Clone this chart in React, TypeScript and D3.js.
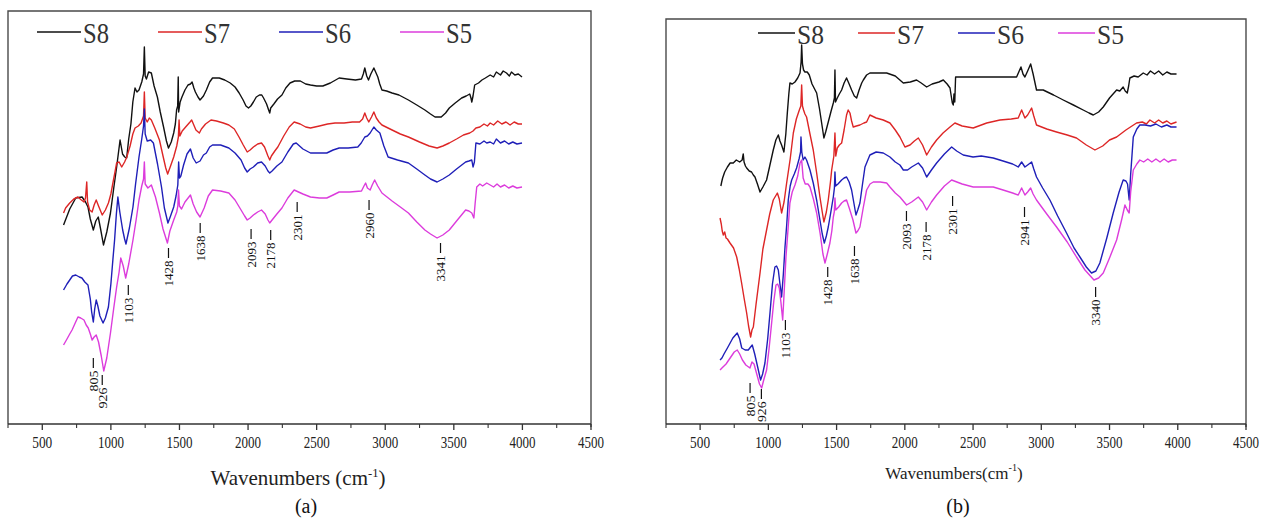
import React from 'react';
import * as d3 from 'd3';

type Pt = [number, number];

// ---------- data ----------
const SERIES = ['S8', 'S7', 'S6', 'S5'];
const COLORS = ['#111111', '#dd2626', '#1f1fb8', '#dc3cdc'];
const X_MAJOR = [500, 1000, 1500, 2000, 2500, 3000, 3500, 4000, 4500];
const X_MINOR = [250, 750, 1250, 1750, 2250, 2750, 3250, 3750, 4250];
const X_DOMAIN: [number, number] = [250, 4500];
const Y_MAX_A = 413; // transmittance, arbitrary units
const Y_MAX_B = 405;

// Panel (a)
const A_S8: Pt[] = [[655,199],[700,215],[744,226],[790,227],[815,222],[833,217],[850,205],[872,194],[890,203],[908,207],[925,195],[946,179],[970,192],[997,211],[1020,235],[1042,257],[1067,284],[1085,270],[1101,267],[1115,266],[1130,285],[1146,300],[1160,322],[1176,336],[1190,332],[1205,334],[1225,342],[1238,350],[1244,377],[1250,348],[1259,345],[1275,352],[1295,351],[1315,338],[1339,327],[1360,312],[1384,297],[1405,283],[1420,276],[1440,282],[1458,291],[1470,300],[1479,314],[1487,318],[1491,347],[1494,312],[1505,322],[1518,327],[1540,334],[1562,339],[1580,340],[1592,342],[1605,336],[1616,332],[1635,327],[1650,324],[1675,328],[1696,334],[1720,342],[1741,346],[1790,346],[1830,344],[1870,341],[1905,337],[1935,331],[1964,324],[1985,318],[2003,316],[2020,318],[2039,322],[2060,327],[2083,329],[2100,329],[2113,326],[2135,320],[2150,314],[2158,311],[2165,316],[2188,320],[2215,325],[2247,329],[2275,336],[2306,341],[2340,343],[2381,343],[2420,340],[2455,339],[2500,338],[2545,338],[2600,341],[2664,346],[2720,345],[2783,344],[2827,345],[2840,350],[2851,356],[2865,348],[2878,344],[2895,350],[2917,356],[2930,352],[2946,347],[2960,340],[2976,334],[3010,333],[3050,331],[3100,329],[3169,324],[3230,319],[3289,314],[3330,310],[3363,307],[3408,307],[3440,311],[3467,316],[3510,321],[3557,326],[3590,328],[3616,330],[3625,326],[3631,322],[3640,328],[3652,339],[3680,341],[3705,344],[3730,346],[3765,349],[3790,347],[3810,352],[3840,349],[3860,353],[3884,351],[3905,348],[3920,352],[3945,349],[3970,350],[3997,347]];
const A_S7: Pt[] = [[655,211],[670,216],[700,221],[730,225],[759,227],[785,224],[804,222],[815,226],[824,242],[830,222],[845,214],[863,212],[878,219],[893,224],[910,218],[937,209],[960,214],[982,221],[1000,230],[1012,239],[1030,252],[1042,261],[1060,262],[1079,257],[1100,262],[1116,267],[1140,278],[1160,290],[1176,296],[1200,298],[1220,301],[1238,308],[1244,332],[1250,306],[1265,302],[1280,306],[1295,304],[1320,296],[1354,284],[1380,268],[1400,256],[1414,250],[1435,258],[1458,267],[1480,278],[1492,287],[1497,304],[1503,288],[1520,293],[1545,297],[1577,302],[1589,304],[1620,294],[1645,291],[1660,295],[1690,300],[1730,304],[1770,303],[1820,301],[1860,299],[1900,295],[1934,287],[1965,279],[1994,272],[2015,274],[2039,277],[2070,280],[2098,281],[2120,277],[2145,268],[2158,264],[2170,268],[2195,273],[2217,277],[2260,288],[2300,297],[2336,302],[2380,300],[2420,297],[2455,296],[2520,298],[2580,300],[2634,301],[2700,301],[2760,302],[2813,302],[2835,305],[2851,311],[2865,306],[2880,302],[2900,307],[2917,312],[2935,306],[2955,302],[2976,299],[3050,294],[3110,290],[3169,287],[3250,282],[3320,278],[3378,276],[3420,278],[3467,281],[3520,285],[3570,289],[3616,291],[3640,293],[3661,296],[3690,297],[3720,300],[3745,298],[3765,301],[3790,299],[3820,303],[3850,300],[3880,302],[3910,299],[3940,302],[3970,300],[3997,300]];
const A_S6: Pt[] = [[655,134],[680,140],[700,144],[720,148],[744,149],[770,147],[789,146],[810,142],[833,139],[850,125],[860,112],[872,102],[882,115],[893,124],[905,118],[920,108],[943,101],[960,106],[982,117],[1000,140],[1015,165],[1027,184],[1040,210],[1051,227],[1065,212],[1086,194],[1100,185],[1110,180],[1135,196],[1161,217],[1180,240],[1205,267],[1225,285],[1238,298],[1244,315],[1250,290],[1265,283],[1290,284],[1310,281],[1340,260],[1369,237],[1390,216],[1416,201],[1435,208],[1458,217],[1475,228],[1488,239],[1494,262],[1500,246],[1510,248],[1530,259],[1555,270],[1580,275],[1600,266],[1622,261],[1650,263],[1675,269],[1696,271],[1720,277],[1741,279],[1800,279],[1860,276],[1905,271],[1949,264],[1975,256],[1994,252],[2015,255],[2039,257],[2070,261],[2098,262],[2125,258],[2145,253],[2158,251],[2175,253],[2210,258],[2247,262],[2290,272],[2330,280],[2351,281],[2400,275],[2455,271],[2520,271],[2574,271],[2620,274],[2664,276],[2730,276],[2800,277],[2825,281],[2851,287],[2870,288],[2890,291],[2917,297],[2935,294],[2961,291],[2990,278],[3021,267],[3090,264],[3169,261],[3230,255],[3289,249],[3330,245],[3378,242],[3420,245],[3467,249],[3520,255],[3586,262],[3610,263],[3631,264],[3640,257],[3650,262],[3661,281],[3690,280],[3720,283],[3740,281],[3765,282],[3790,280],[3810,285],[3840,281],[3870,283],[3900,280],[3930,282],[3960,280],[3997,281]];
const A_S5: Pt[] = [[655,79],[680,85],[700,90],[717,94],[740,101],[760,107],[780,106],[804,104],[820,99],[835,96],[850,90],[863,84],[878,87],[893,89],[910,82],[930,68],[948,53],[970,66],[997,91],[1020,115],[1042,137],[1060,152],[1072,166],[1090,158],[1108,146],[1130,160],[1161,184],[1185,205],[1205,224],[1225,238],[1238,245],[1244,262],[1250,240],[1270,236],[1295,239],[1325,227],[1354,211],[1380,195],[1412,181],[1430,193],[1458,204],[1480,212],[1488,218],[1493,234],[1500,218],[1515,215],[1540,222],[1580,229],[1600,220],[1625,212],[1650,207],[1680,216],[1710,228],[1741,234],[1800,233],[1860,231],[1905,224],[1949,214],[1975,208],[1994,204],[2015,206],[2039,209],[2070,212],[2098,214],[2125,210],[2145,204],[2158,201],[2175,204],[2210,210],[2247,216],[2290,226],[2336,234],[2400,230],[2455,227],[2520,226],[2574,226],[2620,229],[2664,232],[2740,232],[2827,233],[2845,238],[2857,241],[2870,236],[2890,234],[2905,239],[2923,244],[2945,238],[2976,231],[3050,223],[3110,217],[3169,211],[3230,202],[3289,194],[3330,190],[3378,186],[3420,189],[3467,194],[3520,203],[3586,214],[3610,213],[3631,211],[3646,206],[3655,220],[3667,237],[3690,240],[3710,238],[3740,241],[3765,239],[3790,237],[3815,240],[3840,237],[3870,239],[3900,236],[3930,238],[3960,236],[3997,237]];

// Panel (b)
const B_S8: Pt[] = [[652,238],[658,242],[665,246],[680,252],[700,257],[720,261],[743,261],[765,264],[790,262],[808,264],[816,270],[822,262],[832,258],[841,256],[860,253],[877,252],[890,249],[902,247],[920,240],[939,232],[960,237],[987,244],[1010,258],[1036,274],[1055,284],[1073,289],[1085,283],[1097,279],[1114,272],[1128,290],[1139,311],[1150,330],[1158,341],[1175,340],[1195,342],[1215,346],[1232,351],[1240,362],[1244,379],[1250,360],[1258,354],[1268,352],[1285,352],[1300,349],[1320,340],[1354,331],[1375,315],[1395,297],[1407,286],[1420,292],[1439,302],[1458,312],[1476,321],[1484,326],[1488,354],[1492,322],[1505,326],[1520,330],[1537,334],[1555,341],[1573,346],[1592,340],[1610,334],[1630,328],[1647,326],[1665,334],[1684,341],[1696,344],[1720,349],[1744,351],[1800,351],[1867,351],[1930,348],[1989,341],[2040,342],[2086,344],[2120,341],[2160,337],[2200,340],[2250,342],[2282,344],[2310,340],[2331,336],[2340,328],[2348,321],[2355,319],[2360,330],[2366,322],[2372,347],[2450,347],[2550,347],[2650,347],[2750,347],[2819,347],[2835,352],[2851,357],[2866,350],[2880,347],[2900,353],[2922,360],[2940,350],[2965,334],[3014,334],[3090,329],[3161,324],[3235,319],[3307,314],[3350,311],[3381,309],[3420,312],[3454,317],[3500,326],[3552,334],[3575,333],[3600,337],[3615,333],[3630,331],[3640,338],[3649,346],[3680,348],[3710,347],[3747,351],[3775,349],[3800,353],[3830,350],[3860,353],[3890,349],[3920,352],[3950,350],[3991,350]];
const B_S7: Pt[] = [[646,206],[655,200],[662,193],[670,189],[680,192],[690,186],[700,185],[719,181],[745,176],[768,167],[786,155],[804,141],[822,126],[841,111],[855,98],[870,87],[880,94],[890,97],[910,120],[939,151],[960,175],[987,194],[1010,210],[1036,224],[1066,231],[1080,225],[1097,211],[1115,222],[1134,241],[1160,265],[1183,291],[1205,305],[1227,314],[1238,318],[1244,339],[1250,318],[1258,314],[1268,310],[1280,307],[1305,290],[1329,274],[1355,250],[1378,227],[1395,212],[1407,202],[1425,212],[1439,224],[1455,242],[1464,254],[1480,268],[1488,291],[1494,268],[1505,276],[1520,279],[1537,281],[1555,294],[1573,309],[1585,314],[1598,311],[1610,303],[1622,297],[1645,298],[1671,299],[1700,301],[1720,302],[1744,309],[1790,306],[1842,304],[1891,301],[1930,294],[1964,287],[2001,277],[2038,279],[2070,283],[2099,286],[2130,279],[2160,269],[2195,277],[2233,284],[2280,291],[2331,297],[2367,301],[2420,298],[2501,296],[2600,301],[2697,304],[2780,305],[2831,306],[2856,314],[2880,306],[2900,309],[2929,316],[2945,308],[2965,299],[3040,295],[3112,292],[3190,289],[3258,286],[3330,279],[3393,274],[3450,278],[3500,284],[3552,287],[3620,294],[3698,301],[3740,302],[3770,300],[3796,304],[3830,301],[3860,304],[3890,301],[3920,303],[3950,300],[3991,302]];
const B_S6: Pt[] = [[646,64],[660,66],[675,70],[700,76],[740,86],[772,91],[790,85],[805,76],[830,74],[853,74],[870,77],[882,79],[900,70],[920,58],[943,44],[958,50],[975,61],[995,85],[1012,111],[1030,140],[1048,157],[1060,158],[1073,154],[1085,140],[1097,127],[1110,150],[1122,177],[1135,200],[1146,224],[1160,238],[1171,244],[1190,250],[1207,256],[1225,265],[1236,272],[1239,287],[1245,272],[1255,264],[1268,267],[1280,264],[1305,254],[1329,241],[1355,223],[1378,204],[1395,190],[1410,181],[1425,188],[1439,197],[1458,212],[1476,227],[1484,236],[1488,252],[1493,238],[1510,240],[1537,244],[1555,246],[1573,247],[1592,242],[1610,234],[1628,220],[1642,209],[1655,214],[1671,221],[1690,240],[1708,257],[1744,269],[1790,272],[1842,271],[1891,267],[1930,262],[1964,259],[1989,254],[2020,254],[2050,257],[2099,261],[2130,256],[2160,247],[2195,254],[2233,261],[2290,270],[2343,277],[2380,273],[2428,269],[2500,267],[2560,268],[2648,266],[2720,263],[2790,260],[2831,257],[2856,262],[2880,257],[2900,259],[2929,262],[2945,255],[2965,247],[3010,236],[3063,224],[3120,208],[3185,191],[3240,176],[3283,167],[3330,157],[3368,151],[3400,153],[3429,161],[3480,186],[3527,211],[3570,232],[3600,244],[3620,243],[3632,240],[3644,224],[3655,250],[3674,287],[3700,295],[3722,299],[3760,299],[3800,298],[3840,300],[3880,297],[3920,299],[3950,297],[3991,297]];
const B_S5: Pt[] = [[646,54],[660,56],[690,60],[720,66],[750,72],[772,74],[790,70],[810,64],[835,59],[865,56],[880,62],[895,60],[915,50],[935,40],[951,36],[968,45],[987,54],[1005,75],[1024,101],[1040,123],[1056,139],[1068,140],[1080,136],[1092,122],[1105,104],[1117,135],[1129,167],[1145,196],[1158,221],[1175,232],[1195,239],[1215,248],[1232,261],[1244,264],[1255,246],[1270,240],[1290,240],[1305,237],[1330,225],[1354,211],[1380,190],[1400,170],[1415,161],[1432,170],[1451,181],[1465,193],[1476,207],[1483,212],[1488,226],[1494,214],[1515,217],[1537,221],[1555,223],[1573,224],[1595,215],[1620,204],[1642,191],[1655,193],[1671,197],[1695,216],[1720,234],[1745,240],[1769,242],[1820,242],[1867,241],[1891,237],[1930,231],[1964,227],[2013,219],[2050,222],[2099,227],[2130,222],[2160,214],[2195,222],[2233,229],[2290,238],[2343,244],[2420,240],[2501,237],[2580,237],[2648,237],[2720,234],[2790,231],[2831,229],[2856,236],[2880,229],[2900,232],[2922,236],[2940,230],[2965,224],[3040,210],[3112,197],[3190,182],[3258,167],[3320,154],[3386,144],[3420,146],[3454,151],[3500,166],[3552,184],[3590,205],[3613,219],[3630,214],[3644,211],[3655,232],[3674,254],[3700,260],[3722,264],[3750,262],[3780,265],[3810,262],[3840,265],[3870,262],[3900,265],[3930,262],[3960,264],[3991,264]];

// Peak annotations: label, wavenumber position, height of the marker top (a.u.)
const PEAK_TEXT_A = ['805', '926', '1103', '1428', '1638', '2093', '2178', '2301', '2960', '3341'];
const PEAK_WN_A = [872, 937, 1127, 1420, 1651, 2022, 2165, 2358, 2882, 3403];
const PEAK_TOP_A = [66, 49, 139, 176, 201, 195, 194, 222, 224, 181];
const PEAK_TEXT_B = ['805', '926', '1103', '1428', '1638', '2093', '2178', '2301', '2941', '3340'];
const PEAK_WN_B = [866, 949, 1125, 1435, 1631, 2012, 2156, 2350, 2877, 3398];
const PEAK_TOP_B = [41, 35, 104, 157, 178, 213, 202, 228, 217, 137];

const FONT = "'Liberation Serif', 'Times New Roman', serif";

interface PanelProps {
  left: number; right: number; top: number; bottom: number;
  yMax: number;
  series: Pt[][];
  peakText: string[]; peakWn: number[]; peakTop: number[];
  legendX0: number; legendStep: number; legendLine: number; legendY: number;
  legendFont: number; legendTextLen: number;
  title: string; titleX: number; titleY: number; titleFont: number;
  caption: string; captionX: number;
}

function Panel(p: PanelProps) {
  const x = d3.scaleLinear().domain(X_DOMAIN).range([p.left, p.right]);
  const y = d3.scaleLinear().domain([0, p.yMax]).range([p.bottom, p.top]);
  const line = d3.line<Pt>().x(d => x(d[0])).y(d => y(d[1]));
  const frameColor = '#4a4a4a';
  return (
    <g fontFamily={FONT}>
      {/* frame */}
      <path d={`M${p.left},${p.bottom}V${p.top}H${p.right}V${p.bottom + 3}`} fill="none" stroke={frameColor} strokeWidth={1.4} />
      <line x1={p.left} x2={p.right} y1={p.bottom} y2={p.bottom} stroke="#333" strokeWidth={1.6} />
      {X_MAJOR.map(t => (
        <g key={'M' + t}>
          <line x1={x(t)} x2={x(t)} y1={p.bottom} y2={p.bottom + 6} stroke="#333" strokeWidth={1.3} />
          <text x={x(t)} y={p.bottom + 24} textAnchor="middle" fontSize={16} fill="#222"
            textLength={t >= 1000 ? 26 : 20} lengthAdjust="spacingAndGlyphs">{t}</text>
        </g>
      ))}
      {X_MINOR.map(t => (
        <line key={'m' + t} x1={x(t)} x2={x(t)} y1={p.bottom} y2={p.bottom + 4} stroke="#333" strokeWidth={1.1} />
      ))}
      {/* spectra */}
      {p.series.map((s, i) => (
        <path key={i} d={line(s) || ''} fill="none" stroke={COLORS[i]} strokeWidth={1.4} strokeLinejoin="round" />
      ))}
      {/* peak annotations */}
      {p.peakText.map((t, i) => {
        const px = x(p.peakWn[i]);
        const yTop = y(p.peakTop[i]);
        const dash = 10;
        const tTop = yTop + dash + 2.5;
        const nominal = t.length >= 4 ? 26 : 21;
        const len = Math.max(8, Math.min(nominal, p.bottom - 2 - tTop));
        return (
          <g key={'pk' + i}>
            <line x1={px} x2={px} y1={yTop} y2={yTop + dash} stroke="#111" strokeWidth={1.2} />
            <text transform={`translate(${px},${tTop}) rotate(-90)`} textAnchor="end" dominantBaseline="central"
              fontSize={13} fill="#111" textLength={len} lengthAdjust="spacingAndGlyphs">{t}</text>
          </g>
        );
      })}
      {/* legend */}
      {SERIES.map((s, i) => {
        const lx = p.legendX0 + i * p.legendStep;
        return (
          <g key={'lg' + s}>
            <line x1={lx} x2={lx + p.legendLine} y1={p.legendY} y2={p.legendY} stroke={COLORS[i]} strokeWidth={1.5} />
            <text x={lx + p.legendLine + 2} y={p.legendY + 11} fontSize={p.legendFont} fill="#333"
              textLength={p.legendTextLen} lengthAdjust="spacingAndGlyphs">{s}</text>
          </g>
        );
      })}
      {/* axis title */}
      <text x={p.titleX} y={p.titleY} textAnchor="middle" fontSize={p.titleFont} fill="#222">
        {p.title}<tspan dy={-8} fontSize={p.titleFont * 0.6}>-1</tspan><tspan dy={8}>)</tspan>
      </text>
      <text x={p.captionX} y={513} textAnchor="middle" fontSize={20} fill="#111">{p.caption}</text>
    </g>
  );
}

export default function App() {
  return (
    <svg width={1266} height={519} viewBox="0 0 1266 519"
      style={{ position: 'absolute', left: 0, top: 0, background: '#fff' }}>
      <rect x={0} y={0} width={1266} height={519} fill="#fff" />
      <Panel left={8} right={591} top={11} bottom={424} yMax={Y_MAX_A}
        series={[A_S8, A_S7, A_S6, A_S5]}
        peakText={PEAK_TEXT_A} peakWn={PEAK_WN_A} peakTop={PEAK_TOP_A}
        legendX0={37} legendStep={121} legendLine={44} legendY={32} legendFont={30} legendTextLen={26}
        title="Wavenumbers (cm" titleX={298} titleY={485} titleFont={21}
        caption="(a)" captionX={306} />
      <Panel left={666} right={1246} top={19} bottom={424} yMax={Y_MAX_B}
        series={[B_S8, B_S7, B_S6, B_S5]}
        peakText={PEAK_TEXT_B} peakWn={PEAK_WN_B} peakTop={PEAK_TOP_B}
        legendX0={758} legendStep={100} legendLine={37} legendY={33} legendFont={27} legendTextLen={27}
        title="Wavenumbers(cm" titleX={954} titleY={479} titleFont={17}
        caption="(b)" captionX={958} />
    </svg>
  );
}
